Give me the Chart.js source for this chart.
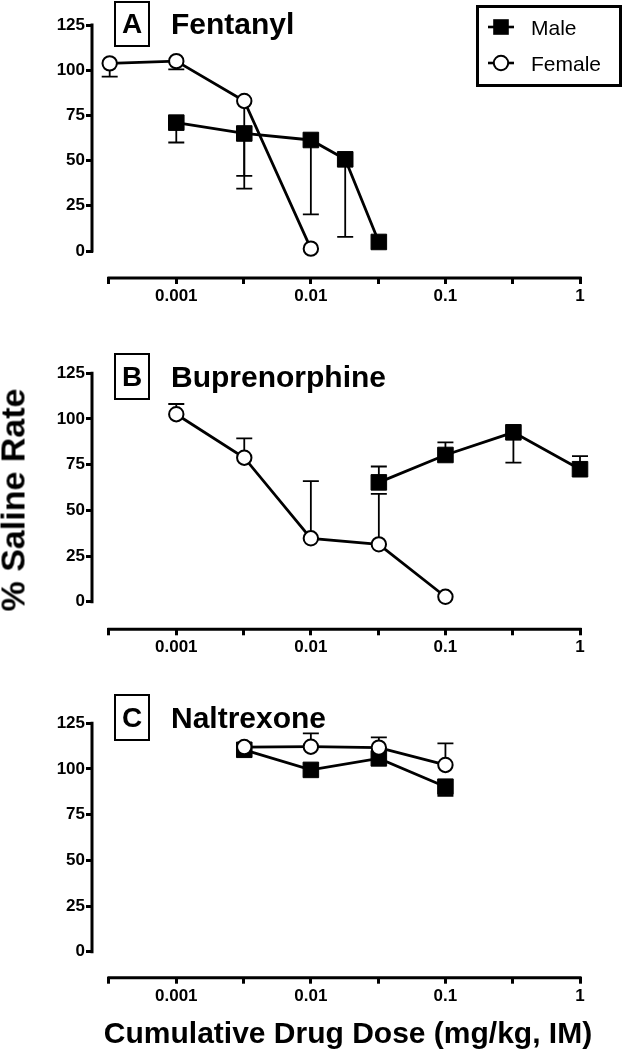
<!DOCTYPE html>
<html><head><meta charset="utf-8">
<script src="https://cdn.jsdelivr.net/npm/chart.js@4.4.1/dist/chart.umd.min.js"></script>
<style>
html,body{margin:0;padding:0;background:#fff;}
body{width:623px;height:1050px;position:relative;overflow:hidden;font-family:"Liberation Sans",Arial,Helvetica,sans-serif;color:#000;}
canvas{position:absolute;left:0;}
.tbox{position:absolute;left:114px;width:32px;border:2px solid #000;font-weight:bold;font-size:28px;display:flex;align-items:center;justify-content:center;box-sizing:content-box;}
.ttl{position:absolute;left:171px;font-weight:bold;font-size:30px;line-height:30px;white-space:nowrap;}
#legend{position:absolute;left:476px;top:5px;width:140px;height:76px;border:3px solid #000;}
.li{position:absolute;left:52px;font-size:21px;line-height:21px;}
#ytitle{position:absolute;left:13px;top:500px;transform:translate(-50%,-50%) rotate(-90deg);font-weight:bold;font-size:34px;white-space:nowrap;}
#xtitle{position:absolute;left:348px;top:1033px;transform:translate(-50%,-50%);font-weight:bold;font-size:30px;white-space:nowrap;}
</style></head>
<body>
<canvas id="cA" width="623" height="320" style="top:0px"></canvas>
<canvas id="cB" width="623" height="340" style="top:320px"></canvas>
<canvas id="cC" width="623" height="390" style="top:660px"></canvas>

<div class="tbox" style="top:1px;height:42px;">A</div>
<div class="ttl" style="top:9px;">Fentanyl</div>
<div class="tbox" style="top:353px;height:43px;">B</div>
<div class="ttl" style="top:362px;">Buprenorphine</div>
<div class="tbox" style="top:694px;height:43px;">C</div>
<div class="ttl" style="top:703px;">Naltrexone</div>

<div id="legend">
  <svg width="140" height="76" style="position:absolute;left:0;top:0">
    <line x1="9" y1="19" x2="35" y2="19" stroke="#000" stroke-width="2.6"/>
    <rect x="14.2" y="11.2" width="15.6" height="15.6" fill="#000"/>
    <line x1="9" y1="55" x2="35" y2="55" stroke="#000" stroke-width="2.6"/>
    <circle cx="22" cy="55" r="7.2" fill="#fff" stroke="#000" stroke-width="2"/>
  </svg>
  <div class="li" style="top:9px;">Male</div>
  <div class="li" style="top:45px;">Female</div>
</div>

<div id="ytitle">% Saline Rate</div>
<div id="xtitle">Cumulative Drug Dose (mg/kg, IM)</div>

<script>
// ---- axis ticks ----
const xTickValues = [0.000316, 0.001, 0.00316, 0.01, 0.0316, 0.1, 0.316, 1];
const xTickLabels = ['', '0.001', '', '0.01', '', '0.1', '', '1'];
const yTickValues = [0, 25, 50, 75, 100, 125];

// ---- A: Fentanyl ----
const fentMaleDose   = [0.001, 0.0032, 0.01, 0.018, 0.032];
const fentMaleRate   = [71, 65, 61.4, 50.7, 5];
const fentMaleErr    = [60, 34.5, 20.3, 7.8, null];
const fentFemaleDose = [0.00032, 0.001, 0.0032, 0.01];
const fentFemaleRate = [103.8, 105, 83, 1.3];
const fentFemaleErr  = [96.4, 100.5, 41.5, null];

// ---- B: Buprenorphine ----
const bupMaleDose   = [0.032, 0.1, 0.32, 1];
const bupMaleRate   = [65.3, 80.3, 92.7, 72.5];
const bupMaleErr    = [74, 87.2, 76.1, 79.7];
const bupFemaleDose = [0.001, 0.0032, 0.01, 0.032, 0.1];
const bupFemaleRate = [102.6, 78.8, 34.7, 31.4, 2.7];
const bupFemaleErr  = [108.2, 89.4, 66, 59, null];

// ---- C: Naltrexone ----
const nalMaleDose   = [0.0032, 0.01, 0.032, 0.1];
const nalMaleRate   = [110.5, 99.5, 105.8, 90.3];
const nalMaleErr    = [null, null, null, 85.3];
const nalFemaleDose = [0.0032, 0.01, 0.032, 0.1];
const nalFemaleRate = [112, 112.2, 111.7, 102.2];
const nalFemaleErr  = [null, 119.5, 117.3, 114];

const FONT = '"Liberation Sans", Arial, Helvetica, sans-serif';
const X_MIN = 0.0002405, X_MAX = 1, X_AXIS_START = 0.000316;

function pts(xs, ys){ return xs.map((x,i)=>({x:x, y:ys[i]})); }

const axesPlugin = {
  id: 'axesAndErrors',
  beforeDatasetsDraw(chart){
    const ctx = chart.ctx, xs = chart.scales.x, ys = chart.scales.y, ca = chart.chartArea;
    ctx.save();
    ctx.strokeStyle = '#000';
    // error bars
    ctx.lineWidth = 1.8;
    chart.data.datasets.forEach(ds => {
      (ds.errTip || []).forEach((tip, i) => {
        if (tip === null || tip === undefined) return;
        const p = ds.data[i];
        const px = xs.getPixelForValue(p.x);
        const py = ys.getPixelForValue(p.y);
        const pt = ys.getPixelForValue(tip);
        ctx.beginPath();
        ctx.moveTo(px, py); ctx.lineTo(px, pt);
        ctx.moveTo(px - 8, pt); ctx.lineTo(px + 8, pt);
        ctx.stroke();
      });
    });
    // axis lines
    ctx.lineWidth = 3;
    const yTop = ys.getPixelForValue(125) - 1.5, yBot = ys.getPixelForValue(0) + 1.5;
    ctx.beginPath();
    ctx.moveTo(ca.left - 1, yTop); ctx.lineTo(ca.left - 1, yBot);
    const xL = xs.getPixelForValue(X_AXIS_START) - 1.5, xR = xs.getPixelForValue(X_MAX) + 1.5;
    ctx.moveTo(xL, ca.bottom + 1); ctx.lineTo(xR, ca.bottom + 1);
    ctx.stroke();
    ctx.restore();
  }
};

function makeChart(id, cfg){
  const ymin = -125 * (cfg.axis - cfg.zero) / (cfg.zero - cfg.top);
  const male = {
    label: 'Male', data: pts(cfg.mDose, cfg.mRate), errTip: cfg.mErr,
    borderColor: '#000', borderWidth: 2.8, backgroundColor: '#000',
    pointStyle: 'rect', pointRadius: 11, pointBorderWidth: 1,
    pointBackgroundColor: '#000', pointBorderColor: '#000', order: 2, clip: false
  };
  const female = {
    label: 'Female', data: pts(cfg.fDose, cfg.fRate), errTip: cfg.fErr,
    borderColor: '#000', borderWidth: 2.8, backgroundColor: '#fff',
    pointStyle: 'circle', pointRadius: 7.2, pointBorderWidth: 2,
    pointBackgroundColor: '#fff', pointBorderColor: '#000', order: 1, clip: false
  };
  return new Chart(document.getElementById(id), {
    type: 'line',
    data: { datasets: [female, male] },
    options: {
      responsive: false, animation: false, events: [],
      layout: { padding: { left: 0, right: 43, top: cfg.top - cfg.canvasTop, bottom: 0 } },
      plugins: { legend: { display: false }, tooltip: { enabled: false }, title: { display: false } },
      elements: { line: { tension: 0 } },
      scales: {
        x: {
          type: 'logarithmic', min: X_MIN, max: X_MAX,
          border: { display: false },
          grid: { drawOnChartArea: false, drawTicks: true, tickLength: 7, tickWidth: 3, tickColor: '#000', color: '#000', lineWidth: 3 },
          afterBuildTicks: s => { s.ticks = xTickValues.map(v => ({ value: v })); },
          afterFit: s => { s.height = cfg.canvasTop + cfg.canvasH - cfg.axis; },
          ticks: {
            autoSkip: false, maxRotation: 0, minRotation: 0, padding: 2, color: '#000',
            font: { family: FONT, size: 17, weight: 'bold' },
            callback: (v, i) => xTickLabels[i]
          }
        },
        y: {
          type: 'linear', min: ymin, max: 125,
          border: { display: false },
          grid: { drawOnChartArea: false, drawTicks: true, tickLength: 7, tickWidth: 3, tickColor: '#000', color: '#000', lineWidth: 3 },
          afterBuildTicks: s => { s.ticks = yTickValues.map(v => ({ value: v })); },
          afterFit: s => { s.width = 93; },
          ticks: {
            padding: 1, color: '#000',
            font: { family: FONT, size: 17, weight: 'bold' },
            callback: v => String(v)
          }
        }
      }
    },
    plugins: [axesPlugin]
  });
}

makeChart('cA', { canvasTop: 0, canvasH: 320, top: 25, zero: 251, axis: 277,
  mDose: fentMaleDose, mRate: fentMaleRate, mErr: fentMaleErr,
  fDose: fentFemaleDose, fRate: fentFemaleRate, fErr: fentFemaleErr });
makeChart('cB', { canvasTop: 320, canvasH: 340, top: 373.3, zero: 601.7, axis: 628.3,
  mDose: bupMaleDose, mRate: bupMaleRate, mErr: bupMaleErr,
  fDose: bupFemaleDose, fRate: bupFemaleRate, fErr: bupFemaleErr });
makeChart('cC', { canvasTop: 660, canvasH: 390, top: 723.3, zero: 951.7, axis: 976.7,
  mDose: nalMaleDose, mRate: nalMaleRate, mErr: nalMaleErr,
  fDose: nalFemaleDose, fRate: nalFemaleRate, fErr: nalFemaleErr });
</script>
</body></html>
